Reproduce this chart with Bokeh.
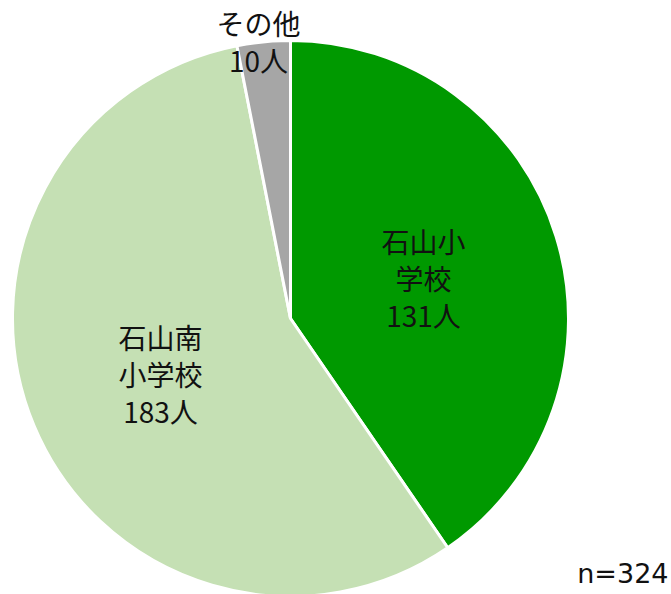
import math
from bokeh.plotting import figure
from bokeh.models import ColumnDataSource, Range1d
from bokeh.core.properties import value
from bokeh.embed import file_html
from bokeh.resources import INLINE

categories = ["石山小学校", "石山南小学校", "その他"]
label_texts = ["石山小\n学校", "石山南\n小学校", "その他"]
counts = [131, 183, 10]
unit = "人"
total_label = "n=324"

colors = ["#009900", "#C5E0B4", "#A6A6A6"]
W, H = 671, 594
cx, cy, R = 290, H - 318, 278
# centre (x, y of middle of the label block) in pixels from top-left
label_pos = [(423, 277), (160, 373), (258, 41)]
line_step = 37

total = sum(counts)
starts, ends = [], []
cum = 0
for c in counts:
    starts.append(math.pi / 2 - 2 * math.pi * cum / total)
    cum += c
    ends.append(math.pi / 2 - 2 * math.pi * cum / total)

src = ColumnDataSource(dict(
    cat=categories, val=counts, start=starts, end=ends, color=colors,
    x=[cx] * len(counts), y=[cy] * len(counts),
))

p = figure(width=W, height=H, output_backend="svg", toolbar_location=None,
           x_range=Range1d(0, W), y_range=Range1d(0, H), min_border=0)
p.axis.visible = False
p.grid.visible = False
p.outline_line_color = None
p.background_fill_color = "white"

p.wedge(x="x", y="y", radius=R, start_angle="start", end_angle="end",
        direction="clock", fill_color="color", line_color="white",
        line_width=3, source=src)

xs, ys, ts = [], [], []
for (px, py), lt, v in zip(label_pos, label_texts, counts):
    lines = lt.split("\n") + [f"{v}{unit}"]
    n = len(lines)
    for i, ln in enumerate(lines):
        xs.append(px)
        ys.append(H - (py + (i - (n - 1) / 2) * line_step))
        ts.append(ln)

lab = ColumnDataSource(dict(x=xs, y=ys, t=ts))
p.text(x="x", y="y", text="t", source=lab, text_align="center",
       text_baseline="middle", text_font=value("Noto Sans CJK JP"),
       text_font_size="28px", text_color="#111111")

p.text(x=[668], y=[H - 573], text=[total_label], text_align="right",
       text_baseline="middle", text_font=value("DejaVu Sans"),
       text_font_size="27px", text_color="#111111")

open("out.html", "w").write(file_html(p, INLINE))
